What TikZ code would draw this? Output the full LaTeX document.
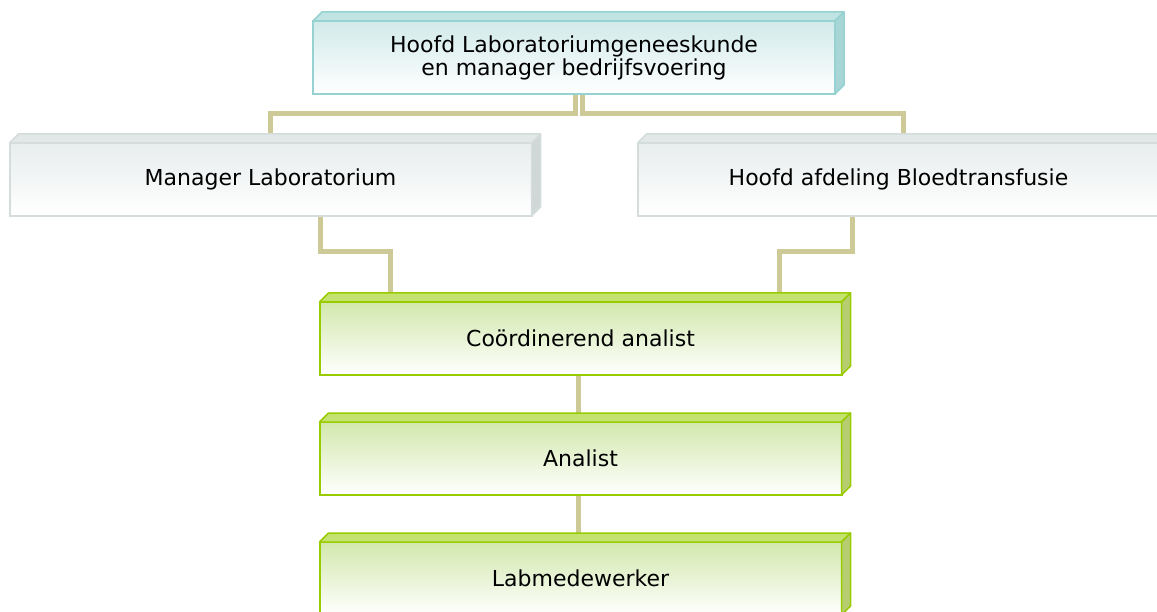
\documentclass[tikz,border=0pt]{standalone}
\usepackage{fontspec}
\setmainfont{DejaVu Sans}

% colour sets for the three box families
\definecolor{linkcol}{RGB}{206,202,152}
\definecolor{tealedge}{RGB}{150,210,210}
\definecolor{tealfront}{RGB}{210,234,234}
\definecolor{tealtop}{RGB}{192,228,228}
\definecolor{tealside}{RGB}{168,214,214}
\definecolor{grayedge}{RGB}{212,220,220}
\definecolor{grayfront}{RGB}{232,237,237}
\definecolor{graytop}{RGB}{226,231,231}
\definecolor{grayside}{RGB}{208,215,215}
\definecolor{greenedge}{RGB}{153,204,0}
\definecolor{greenfront}{RGB}{210,232,172}
\definecolor{greentop}{RGB}{196,226,112}
\definecolor{greenside}{RGB}{182,206,112}

\pgfdeclarelayer{links}
\pgfsetlayers{links,main}

\tikzset{
  box/.style={rectangle, minimum width=522pt, minimum height=73pt,
    inner sep=0pt, outer sep=0pt, line width=2pt, align=center,
    font=\fontsize{22}{23}\selectfont, text=black},
  tealbox/.style={box, draw=tealedge, top color=tealfront,
    middle color=tealfront!88!white, bottom color=white},
  graybox/.style={box, draw=grayedge, top color=grayfront,
    middle color=grayfront!88!white, bottom color=white},
  greenbox/.style={box, draw=greenedge, top color=greenfront,
    middle color=greenfront!85!white, bottom color=white},
  link/.style={draw=linkcol, line width=5pt},
}

% top and right faces of a bevelled box: #1 node, #2 edge, #3 top fill, #4 side fill
\newcommand\bevelfaces[4]{%
  \filldraw[draw=#2, fill=#3, line width=1.5pt, line join=round]
    (#1.north west) -- ++(9,-9) -- ([xshift=9pt,yshift=9pt]#1.north east)
    -- (#1.north east) -- cycle;
  \filldraw[draw=#2, fill=#4, line width=1.5pt, line join=round]
    (#1.north east) -- ++(9,-9) -- ([xshift=9pt,yshift=9pt]#1.south east)
    -- (#1.south east) -- cycle;
}

\begin{document}
\begin{tikzpicture}[x=1pt,y=-1pt]
  \useasboundingbox (0,0) rectangle (1157,612);
  \clip (0,0) rectangle (1157,612);

  \node[tealbox]  (top)   at (574,57.5)   {Hoofd Laboratoriumgeneeskunde\\en manager bedrijfsvoering};
  \node[graybox]  (mgr)   at (270.5,179.5) {Manager Laboratorium};
  \node[graybox]  (bt)    at (898.5,179.5) {Hoofd afdeling Bloedtransfusie};
  \node[greenbox] (coord) at (580.5,338.5) {Coördinerend analist};
  \node[greenbox] (anal)  at (580.5,458.5) {Analist};
  \node[greenbox] (lab)   at (580.5,578.5) {Labmedewerker};

  \bevelfaces{top}{tealedge}{tealtop}{tealside}
  \bevelfaces{mgr}{grayedge}{graytop}{grayside}
  \bevelfaces{bt}{grayedge}{graytop}{grayside}
  \bevelfaces{coord}{greenedge}{greentop}{greenside}
  \bevelfaces{anal}{greenedge}{greentop}{greenside}
  \bevelfaces{lab}{greenedge}{greentop}{greenside}

  \begin{pgfonlayer}{links}
    \draw[link] ([xshift=1pt]top.south) -- ++(0,20) -| (mgr.north);
    \draw[link] ([xshift=8.5pt]top.south) -- ++(0,20) -| ([xshift=4.5pt]bt.north);
    \draw[link] ([xshift=49.5pt]mgr.south) -- ++(0,36) -| ([xshift=-190.5pt]coord.north);
    \draw[link] ([xshift=-46.5pt]bt.south) -- ++(0,36) -| ([xshift=199pt]coord.north);
    \draw[link] ([xshift=-2.5pt]coord.south) -- ([xshift=-2.5pt]anal.north);
    \draw[link] ([xshift=-2.5pt]anal.south) -- ([xshift=-2.5pt]lab.north);
  \end{pgfonlayer}
\end{tikzpicture}
\end{document}
